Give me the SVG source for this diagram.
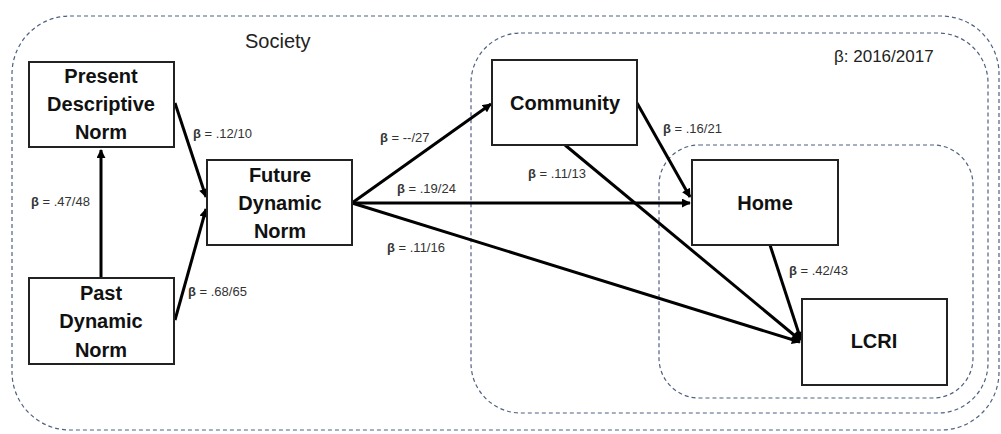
<svg xmlns="http://www.w3.org/2000/svg" width="1001" height="434" viewBox="0 0 1001 434">
<style>
.cont{fill:none;stroke:#4f6182;stroke-width:1.2;stroke-dasharray:4 3}
.box{fill:#fff;stroke:#222;stroke-width:2}
.nt{font-family:"Liberation Sans",Arial,sans-serif;font-weight:bold;font-size:20px;fill:#111;text-anchor:middle}
.el{font-family:"Liberation Sans",Arial,sans-serif;font-size:13px;fill:#333}
.el tspan.b{font-weight:bold}
.ct{font-family:"Liberation Sans",Arial,sans-serif;font-size:20px;fill:#222}
.ct.s{font-size:17px}
.edge{fill:none;stroke:#000;stroke-width:3;marker-end:url(#ah)}
</style>
<defs>
<marker id="ah" viewBox="0 0 10 10" refX="9" refY="5" markerWidth="3.2" markerHeight="3" orient="auto" markerUnits="strokeWidth">
<path d="M0,0 L10,5 L0,10 z" fill="#000"/>
</marker>
</defs>
<rect width="1001" height="434" fill="#fff"/>
<g id="containers">
<rect class="cont" x="12" y="16" width="987" height="414" rx="58" ry="58"/>
<rect class="cont" x="471" y="33" width="517" height="380" rx="50" ry="50"/>
<rect class="cont" x="659" y="145" width="314" height="253" rx="40" ry="40"/>
<text class="ct" x="245" y="48">Society</text>
<text class="ct s" x="834" y="62">β: 2016/2017</text>
</g>
<g id="connectors">
<line class="edge" x1="101" y1="278" x2="101" y2="150"/>
<line class="edge" x1="175" y1="103" x2="206" y2="197"/>
<line class="edge" x1="175" y1="320" x2="206" y2="209"/>
<line class="edge" x1="352" y1="203" x2="491" y2="104"/>
<line class="edge" x1="352" y1="203" x2="690" y2="203"/>
<line class="edge" x1="352" y1="203" x2="800" y2="342"/>
<line class="edge" x1="637" y1="103" x2="690" y2="197"/>
<line class="edge" x1="565" y1="145" x2="800" y2="340"/>
<line class="edge" x1="770" y1="245" x2="801" y2="340"/>
<text class="el" x="193" y="138"><tspan class="b">β</tspan> = .12/10</text>
<text class="el" x="31" y="206"><tspan class="b">β</tspan> = .47/48</text>
<text class="el" x="188" y="296"><tspan class="b">β</tspan> = .68/65</text>
<text class="el" x="380" y="142"><tspan class="b">β</tspan> = --/27</text>
<text class="el" x="397" y="193"><tspan class="b">β</tspan> = .19/24</text>
<text class="el" x="387" y="252"><tspan class="b">β</tspan> = .11/16</text>
<text class="el" x="663" y="133"><tspan class="b">β</tspan> = .16/21</text>
<text class="el" x="528" y="178"><tspan class="b">β</tspan> = .11/13</text>
<text class="el" x="789" y="275"><tspan class="b">β</tspan> = .42/43</text>
</g>
<g id="present">
<rect class="box" x="29" y="62" width="145" height="85"/>
<text class="nt" x="101" y="83">Present</text>
<text class="nt" x="101" y="111">Descriptive</text>
<text class="nt" x="101" y="139">Norm</text>
</g>
<g id="past">
<rect class="box" x="29" y="278" width="145" height="86"/>
<text class="nt" x="101" y="300">Past</text>
<text class="nt" x="101" y="328">Dynamic</text>
<text class="nt" x="101" y="357">Norm</text>
</g>
<g id="future">
<rect class="box" x="207" y="160" width="145" height="85"/>
<text class="nt" x="280" y="182">Future</text>
<text class="nt" x="280" y="210">Dynamic</text>
<text class="nt" x="280" y="238">Norm</text>
</g>
<g id="community">
<rect class="box" x="492" y="60" width="145" height="85"/>
<text class="nt" x="565" y="110">Community</text>
</g>
<g id="home">
<rect class="box" x="692" y="160" width="146" height="85"/>
<text class="nt" x="765" y="210">Home</text>
</g>
<g id="lcri">
<rect class="box" x="802" y="299" width="145" height="86"/>
<text class="nt" x="874" y="348">LCRI</text>
</g>
</svg>
